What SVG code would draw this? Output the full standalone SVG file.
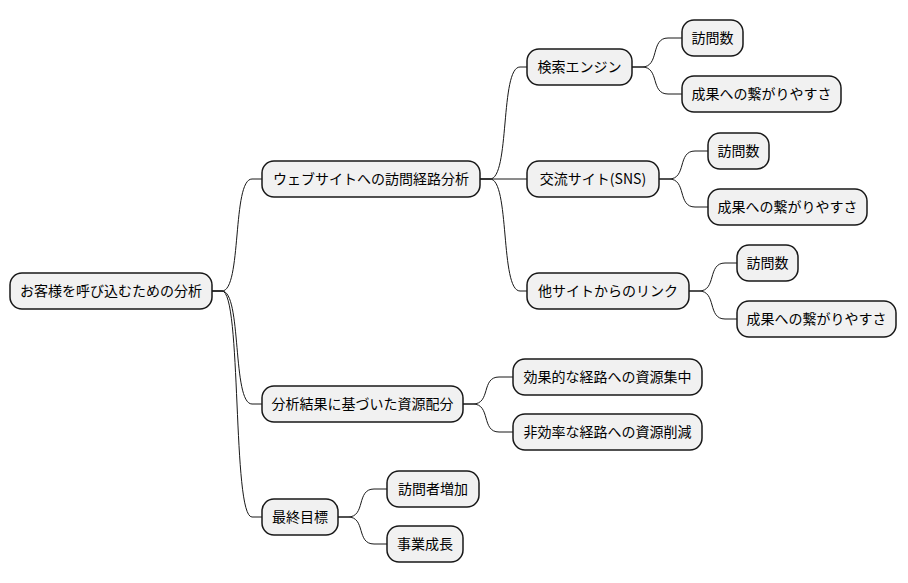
<svg xmlns="http://www.w3.org/2000/svg" width="908" height="583" viewBox="0 0 908 583">
<style>
.n rect{fill:#F1F1F1;stroke:#181818;stroke-width:1.5}
.n text{font-family:"Noto Sans CJK JP","Noto Sans",sans-serif;font-size:14px;fill:#000;text-anchor:middle}
.c path{fill:none;stroke:#181818;stroke-width:1}
</style>
<rect width="908" height="583" fill="#fff"/>
<g class="c" id="connectors">
<path d="M212,291 L222,291 C242,291 232,179 252,179 L262,179"/>
<path d="M212,291 L222,291 C242,291 232,404 252,404 L262,404"/>
<path d="M212,291 L222,291 C242,291 232,517 252,517 L262,517"/>
<path d="M480,179 L490,179 C510,179 500,67 520,67 L527,67"/>
<path d="M480,179 L527,179"/>
<path d="M480,179 L490,179 C510,179 500,291 520,291 L527,291"/>
<path d="M632,67 L642,67 C660,67 650,38 668,38 L682,38"/>
<path d="M632,67 L642,67 C660,67 650,94 668,94 L682,94"/>
<path d="M659,179 L669,179 C687,179 677,151 695,151 L708,151"/>
<path d="M659,179 L669,179 C687,179 677,207 695,207 L708,207"/>
<path d="M689,291 L699,291 C717,291 707,263 725,263 L737,263"/>
<path d="M689,291 L699,291 C717,291 707,319 725,319 L737,319"/>
<path d="M463,404 L473,404 C491,404 481,377 499,377 L513,377"/>
<path d="M463,404 L473,404 C491,404 481,432 499,432 L513,432"/>
<path d="M338,517 L348,517 C366,517 356,489 374,489 L387,489"/>
<path d="M338,517 L348,517 C366,517 356,544 374,544 L387,544"/>
</g>
<g class="n" id="root"><rect x="10" y="273" width="202" height="36" rx="12"/><text x="111" y="296">お客様を呼び込むための分析</text></g>
<g class="n" id="web"><rect x="262" y="161" width="218" height="36" rx="12"/><text x="371" y="184">ウェブサイトへの訪問経路分析</text></g>
<g class="n" id="search"><rect x="527" y="49" width="105" height="36" rx="12"/><text x="579.5" y="72">検索エンジン</text></g>
<g class="n" id="search-visit"><rect x="682" y="20" width="61" height="36" rx="12"/><text x="712.5" y="43">訪問数</text></g>
<g class="n" id="search-conv"><rect x="682" y="76" width="159" height="36" rx="12"/><text x="761.5" y="99">成果への繋がりやすさ</text></g>
<g class="n" id="sns"><rect x="527" y="161" width="132" height="36" rx="12"/><text x="593" y="184">交流サイト(SNS)</text></g>
<g class="n" id="sns-visit"><rect x="708" y="133" width="61" height="36" rx="12"/><text x="738.5" y="156">訪問数</text></g>
<g class="n" id="sns-conv"><rect x="708" y="189" width="159" height="36" rx="12"/><text x="787.5" y="212">成果への繋がりやすさ</text></g>
<g class="n" id="link"><rect x="527" y="273" width="162" height="36" rx="12"/><text x="608" y="296">他サイトからのリンク</text></g>
<g class="n" id="link-visit"><rect x="737" y="245" width="61" height="36" rx="12"/><text x="767.5" y="268">訪問数</text></g>
<g class="n" id="link-conv"><rect x="737" y="301" width="159" height="36" rx="12"/><text x="816.5" y="324">成果への繋がりやすさ</text></g>
<g class="n" id="alloc"><rect x="262" y="386" width="201" height="36" rx="12"/><text x="362.5" y="409">分析結果に基づいた資源配分</text></g>
<g class="n" id="focus"><rect x="513" y="359" width="189" height="36" rx="12"/><text x="607.5" y="382">効果的な経路への資源集中</text></g>
<g class="n" id="cut"><rect x="513" y="414" width="189" height="36" rx="12"/><text x="607.5" y="437">非効率な経路への資源削減</text></g>
<g class="n" id="goal"><rect x="262" y="499" width="76" height="36" rx="12"/><text x="300" y="522">最終目標</text></g>
<g class="n" id="goal-visitor"><rect x="387" y="471" width="92" height="36" rx="12"/><text x="433" y="494">訪問者増加</text></g>
<g class="n" id="goal-growth"><rect x="387" y="526" width="76" height="36" rx="12"/><text x="425" y="549">事業成長</text></g>
</svg>
